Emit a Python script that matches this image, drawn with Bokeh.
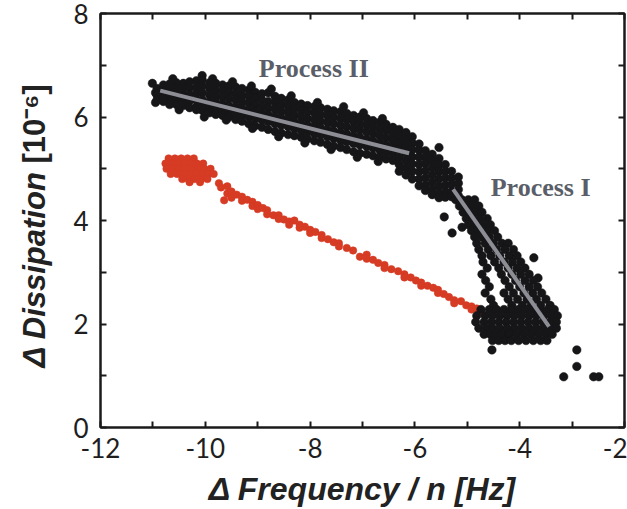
import math
from bokeh.plotting import figure
from bokeh.models import Range1d, FixedTicker, LinearAxis, Label
from bokeh.embed import file_html
from bokeh.resources import INLINE

# ---------------- data ----------------
x_major = [-12, -10, -8, -6, -4, -2]
x_minor = [-11, -9, -7, -5, -3]
x_labels = ["-12", "-10", "-8", "-6", "-4", "-2"]
y_major = [0, 2, 4, 6, 8]
y_minor = [1, 3, 5, 7]
y_labels = ["0", "2", "4", "6", "8"]

# Process II band: (x, [dissipation values])
band2_cols = [
    (-11.01, [6.65]),
    (-10.95, [6.47, 6.28]),
    (-10.92, [6.55, 6.42, 6.33]),
    (-10.80, [6.62, 6.50, 6.38, 6.30]),
    (-10.68, [6.64, 6.52, 6.41, 6.29, 6.24]),
    (-10.55, [6.66, 6.55, 6.44, 6.33, 6.24]),
    (-10.42, [6.65, 6.57, 6.45, 6.34, 6.22]),
    (-10.30, [6.68, 6.56, 6.43, 6.31, 6.18]),
    (-10.17, [6.70, 6.58, 6.46, 6.33, 6.20, 6.14]),
    (-10.06, [6.80, 6.72, 6.60, 6.47, 6.34, 6.22, 6.13]),
    (-9.92, [6.66, 6.55, 6.43, 6.30, 6.18, 6.08]),
    (-9.80, [6.65, 6.52, 6.40, 6.28, 6.15, 6.05]),
    (-9.67, [6.62, 6.50, 6.38, 6.25, 6.12, 6.03]),
    (-9.55, [6.60, 6.49, 6.36, 6.22, 6.10, 6.00]),
    (-9.42, [6.58, 6.45, 6.33, 6.20, 6.06, 5.95]),
    (-9.30, [6.55, 6.42, 6.30, 6.17, 6.04, 5.92]),
    (-9.17, [6.52, 6.40, 6.27, 6.14, 6.01, 5.87]),
    (-9.05, [6.48, 6.37, 6.24, 6.11, 5.97, 5.83]),
    (-8.92, [6.45, 6.33, 6.20, 6.07, 5.94, 5.80]),
    (-8.80, [6.47, 6.30, 6.18, 6.05, 5.91, 5.76]),
    (-8.67, [6.40, 6.28, 6.15, 6.01, 5.87, 5.72]),
    (-8.55, [6.36, 6.24, 6.11, 5.98, 5.84, 5.69]),
    (-8.42, [6.33, 6.21, 6.08, 5.95, 5.81, 5.66]),
    (-8.30, [6.28, 6.17, 6.04, 5.91, 5.78, 5.64]),
    (-8.17, [6.25, 6.13, 6.00, 5.87, 5.74, 5.61]),
    (-8.05, [6.22, 6.10, 5.97, 5.84, 5.71, 5.58]),
    (-7.92, [6.20, 6.08, 5.95, 5.82, 5.68, 5.54]),
    (-7.80, [6.18, 6.05, 5.92, 5.79, 5.65, 5.51]),
    (-7.67, [6.15, 6.03, 5.90, 5.76, 5.62, 5.47]),
    (-7.55, [6.12, 6.00, 5.87, 5.73, 5.59, 5.44]),
    (-7.42, [6.10, 5.97, 5.84, 5.70, 5.55, 5.41]),
    (-7.30, [6.07, 5.95, 5.81, 5.67, 5.52, 5.37]),
    (-7.17, [6.03, 5.91, 5.78, 5.64, 5.49, 5.33]),
    (-7.05, [6.00, 5.88, 5.75, 5.61, 5.46, 5.30]),
    (-6.92, [5.97, 5.84, 5.71, 5.57, 5.43, 5.28]),
    (-6.80, [5.93, 5.81, 5.68, 5.54, 5.40, 5.25]),
    (-6.67, [5.90, 5.77, 5.64, 5.50, 5.36, 5.22]),
    (-6.55, [5.86, 5.74, 5.60, 5.46, 5.32, 5.19]),
    (-6.42, [5.80, 5.68, 5.55, 5.42, 5.28, 5.16]),
    (-6.30, [5.76, 5.63, 5.50, 5.37, 5.22, 5.08, 4.95]),
    (-6.17, [5.70, 5.57, 5.44, 5.30, 5.16, 5.02, 4.88]),
    (-6.05, [5.62, 5.50, 5.37, 5.23, 5.09, 4.95, 4.80]),
    (-5.92, [5.48, 5.36, 5.22, 5.08, 4.94, 4.80, 4.67]),
    (-5.80, [5.35, 5.22, 5.10, 4.96, 4.82, 4.68, 4.58]),
    (-5.67, [5.28, 5.15, 5.02, 4.88, 4.74, 4.60, 4.50]),
    (-5.54, [5.41, 5.20, 5.07, 4.94, 4.80, 4.66, 4.52, 4.44]),
    (-5.42, [5.08, 4.95, 4.82, 4.68, 4.55, 4.45]),
    (-5.30, [4.95, 4.82, 4.70, 4.56, 4.46]),
    (-5.17, [4.84, 4.72, 4.60, 4.48]),
]
# irregular edge points of the Process II band: (x, y)
band2_edge = [
    (-10.62, 6.74), (-9.86, 6.74), (-9.48, 6.68), (-9.12, 6.60), (-8.74, 6.54),
    (-8.36, 6.41), (-7.86, 6.28), (-7.36, 6.20), (-6.98, 6.08), (-6.62, 5.97),
    (-10.50, 6.14), (-10.02, 6.00), (-9.60, 5.94), (-9.10, 5.78), (-8.60, 5.62),
    (-8.10, 5.50), (-7.60, 5.37), (-7.10, 5.22), (-6.70, 5.14),
]

# Process I band: (dissipation, [frequency values])
band1_rows = [
    (4.40, [-5.22, -5.10, -4.98, -4.86]),
    (4.28, [-5.15, -5.02, -4.90, -4.78]),
    (4.16, [-5.08, -4.96, -4.84, -4.72]),
    (4.07, [-5.44]),
    (4.04, [-5.02, -4.90, -4.76, -4.62]),
    (3.92, [-4.98, -4.84, -4.70, -4.56]),
    (3.87, [-5.10]),
    (3.80, [-4.92, -4.80, -4.62, -4.48]),
    (3.76, [-5.29]),
    (3.68, [-4.86, -4.72, -4.58, -4.42]),
    (3.56, [-4.82, -4.66, -4.50, -4.34, -4.22]),
    (3.44, [-4.78, -4.60, -4.44, -4.28, -4.12]),
    (3.32, [-4.72, -4.55, -4.38, -4.20, -4.05]),
    (3.28, [-3.73]),
    (3.20, [-4.70, -4.48, -4.30, -4.14, -3.98]),
    (3.08, [-4.62, -4.40, -4.22, -4.05, -3.90]),
    (2.96, [-4.72, -4.35, -4.15, -3.98, -3.82]),
    (2.89, [-3.65]),
    (2.84, [-4.65, -4.28, -4.08, -3.90, -3.74]),
    (2.72, [-4.58, -4.20, -4.00, -3.82, -3.66]),
    (2.60, [-4.66, -4.30, -4.12, -3.92, -3.75, -3.58]),
    (2.48, [-4.55, -4.22, -4.04, -3.86, -3.68, -3.50]),
    (2.36, [-4.50, -4.15, -3.95, -3.78, -3.60, -3.42]),
]

# end cluster: (dissipation, [frequency values])
blob_rows = [
    (2.28, [-4.74, -4.58, -4.44, -4.30, -4.16, -4.02, -3.88, -3.74, -3.60, -3.46, -3.34]),
    (2.16, [-4.82, -4.66, -4.52, -4.38, -4.24, -4.10, -3.96, -3.82, -3.68, -3.54, -3.40, -3.28]),
    (2.04, [-4.84, -4.68, -4.54, -4.40, -4.26, -4.12, -3.98, -3.84, -3.70, -3.56, -3.42, -3.30]),
    (1.92, [-4.78, -4.64, -4.52, -4.38, -4.24, -4.10, -3.96, -3.82, -3.68, -3.54, -3.40, -3.30]),
    (1.80, [-4.68, -4.56, -4.44, -4.32, -4.20, -4.06, -3.92, -3.78, -3.64, -3.50, -3.38]),
    (1.68, [-4.52, -4.40, -4.28, -4.16, -4.02, -3.88, -3.74, -3.60, -3.48]),
    (1.50, [-4.53, -2.91]),
    (1.18, [-2.91]),
    (0.98, [-3.16, -2.59, -2.49]),
]

# second (red) series: (dissipation, [frequency values]) for the dense start
red_rows = [
    (5.20, [-10.70, -10.58, -10.46, -10.34, -10.22]),
    (5.10, [-10.76, -10.64, -10.52, -10.40, -10.28, -10.16, -10.04]),
    (5.00, [-10.74, -10.62, -10.50, -10.38, -10.26, -10.14, -10.02, -9.90]),
    (4.90, [-10.66, -10.54, -10.42, -10.30, -10.18, -10.06, -9.94, -9.84]),
    (4.80, [-10.44, -10.32, -10.20, -10.08, -9.96]),
    (4.74, [-10.30, -10.10]),
]
# red tail: (frequency, [dissipation values])
red_tail = [
    (-9.74, [4.72]), (-9.70, [4.64]), (-9.64, [4.39]), (-9.58, [4.66, 4.52]),
    (-9.50, [4.56, 4.44]), (-9.40, [4.50]), (-9.30, [4.46, 4.38]),
    (-9.20, [4.40]), (-9.10, [4.36, 4.28]), (-9.00, [4.30, 4.22]),
    (-8.90, [4.24]), (-8.82, [4.20, 4.12]), (-8.70, [4.10]),
    (-8.60, [4.10, 4.03]), (-8.50, [4.02]), (-8.40, [3.98, 3.92]),
    (-8.30, [4.00]), (-8.20, [3.92, 3.86]), (-8.10, [3.88]),
    (-8.00, [3.82, 3.76]), (-7.90, [3.78]), (-7.78, [3.72, 3.66]),
    (-7.66, [3.64]), (-7.55, [3.58]), (-7.45, [3.56, 3.50]),
    (-7.30, [3.47]), (-7.18, [3.42]), (-7.05, [3.30]),
    (-6.92, [3.34, 3.26]), (-6.80, [3.24]), (-6.70, [3.18]),
    (-6.58, [3.14, 3.08]), (-6.45, [3.06]), (-6.32, [3.02]),
    (-6.20, [2.96, 2.90]), (-6.08, [2.90]), (-5.98, [2.84]),
    (-5.88, [2.80, 2.74]), (-5.76, [2.74]), (-5.65, [2.70]),
    (-5.56, [2.66, 2.60]), (-5.45, [2.58]), (-5.35, [2.52]),
    (-5.25, [2.46, 2.40]), (-5.12, [2.44]), (-5.02, [2.36]),
    (-4.92, [2.34, 2.28]), (-4.82, [2.30]), (-4.74, [2.24]),
]

# fitted lines
fit2_x = [-10.86, -6.11]
fit2_y = [6.51, 5.30]
fit1_x = [-5.27, -3.44]
fit1_y = [4.60, 1.95]

# ---------------- build point arrays ----------------
black_x, black_y = [], []
for x, ys in band2_cols:
    for y in ys:
        black_x.append(x); black_y.append(y)
for x, y in band2_edge:
    black_x.append(x); black_y.append(y)
for y, xs in band1_rows + blob_rows:
    for x in xs:
        black_x.append(x); black_y.append(y)

red_x, red_y = [], []
for y, xs in red_rows:
    for x in xs:
        red_x.append(x); red_y.append(y)
for x, ys in red_tail:
    for y in ys:
        red_x.append(x); red_y.append(y)

# ---------------- figure ----------------
p = figure(width=627, height=509, x_range=Range1d(-12, -2), y_range=Range1d(0, 8),
           output_backend="svg", toolbar_location=None,
           min_border_left=98, min_border_right=3, min_border_top=13, min_border_bottom=81)
p.grid.visible = False
p.outline_line_color = "#1a1a1a"
p.outline_line_width = 2
p.background_fill_color = "white"
p.border_fill_color = "white"

p.scatter(red_x, red_y, size=7.5, fill_color="#d63b24", line_color="#d63b24", line_width=0.5)
p.scatter(black_x, black_y, size=8.5, fill_color="#161618", line_color="#161618", line_width=0.5)
p.line(fit2_x, fit2_y, line_color="#8d8d96", line_width=4)
p.line(fit1_x, fit1_y, line_color="#8d8d96", line_width=4)

def style_axis(ax, labels=True):
    ax.axis_line_width = 2
    ax.axis_line_color = "#1a1a1a"
    ax.major_tick_in = 6
    ax.major_tick_out = 0
    ax.minor_tick_in = 6
    ax.minor_tick_out = 0
    ax.major_tick_line_width = 2
    ax.minor_tick_line_width = 2
    ax.major_tick_line_color = "#1a1a1a"
    ax.minor_tick_line_color = "#1a1a1a"
    if labels:
        ax.major_label_text_font = "Lato"
        ax.major_label_text_font_size = "26px"
        ax.major_label_text_color = "#1e1e1e"
    else:
        ax.major_label_text_font_size = "0px"
        ax.major_label_standoff = 0

xb = p.xaxis[0]
xb.ticker = FixedTicker(ticks=x_major, minor_ticks=x_minor)
xb.major_label_overrides = dict(zip(x_major, x_labels))
style_axis(xb)
xb.major_label_standoff = 10
xb.axis_label = "Δ Frequency / n [Hz]"
xb.axis_label_text_font = "Liberation Sans"
xb.axis_label_text_font_style = "bold italic"
xb.axis_label_text_font_size = "32px"
xb.axis_label_text_color = "#222222"
xb.axis_label_standoff = 10

yl = p.yaxis[0]
yl.ticker = FixedTicker(ticks=y_major, minor_ticks=y_minor)
yl.major_label_overrides = dict(zip(y_major, y_labels))
style_axis(yl)
yl.major_label_standoff = 12

xt = LinearAxis(ticker=FixedTicker(ticks=x_major, minor_ticks=x_minor))
style_axis(xt, labels=False)
p.add_layout(xt, "above")
yr = LinearAxis(ticker=FixedTicker(ticks=y_major, minor_ticks=y_minor))
style_axis(yr, labels=False)
p.add_layout(yr, "right")

# process labels
p.add_layout(Label(x=-7.93, y=6.94, text="Process II", text_align="center",
                   text_baseline="alphabetic", text_font="Liberation Serif",
                   text_font_style="bold", text_font_size="26px", text_color="#5a5e68"))
p.add_layout(Label(x=-3.60, y=4.64, text="Process I", text_align="center",
                   text_baseline="alphabetic", text_font="Liberation Serif",
                   text_font_style="bold", text_font_size="26px", text_color="#5a5e68"))

# y-axis title in two styles, placed in the left side panel (not clipped there)
def title_label(text, style, x, y):
    return Label(x=x, y=y, x_units="screen", y_units="screen", angle=math.pi / 2,
                 text=text, text_align="left", text_baseline="alphabetic",
                 text_font="Liberation Sans", text_font_style=style,
                 text_font_size="31px", text_color="#222222")

p.add_layout(title_label("Δ Dissipation", "bold italic", -1, 60), "left")
p.add_layout(title_label("[10⁻⁶]", "bold", 34, 264), "left")

open("out.html", "w").write(file_html(p, INLINE))
